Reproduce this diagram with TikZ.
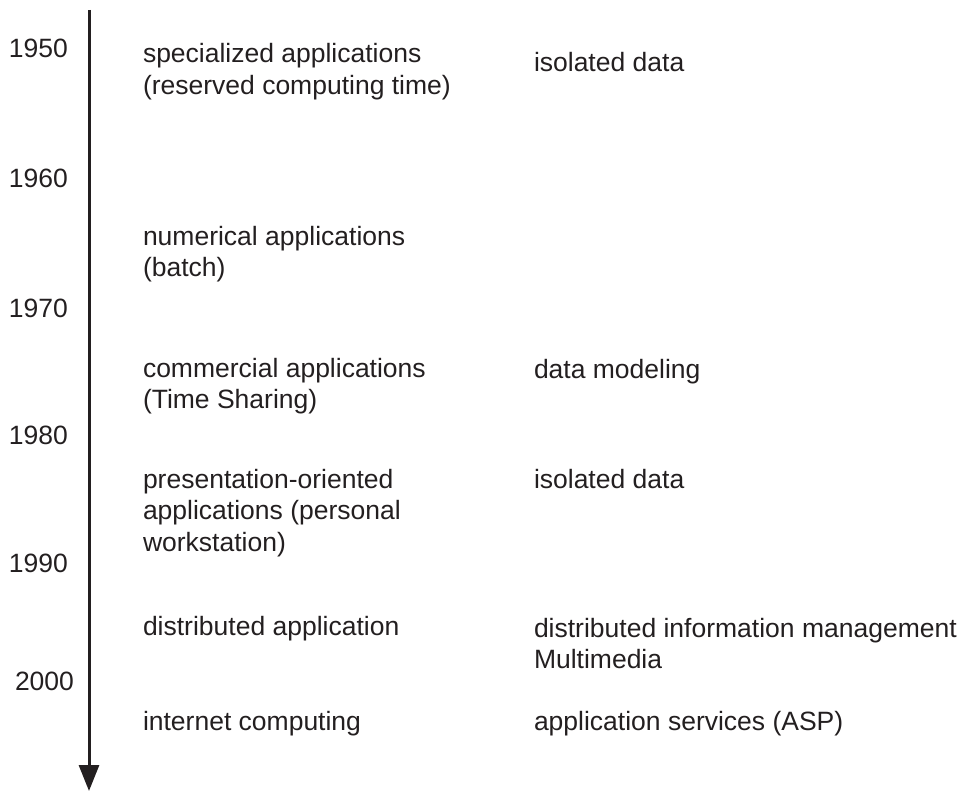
\documentclass[tikz,border=0pt]{standalone}
\usepackage{fontspec}
\setmainfont{Liberation Sans}
\usetikzlibrary{arrows.meta}
\definecolor{ink}{HTML}{231F20}
\newcommand{\stack}[1]{\begin{tabular}[t]{@{}l@{}}#1\end{tabular}}
\begin{document}
\begin{tikzpicture}[x=1pt,y=-1pt,
  every node/.style={inner sep=0pt,outer sep=0pt,anchor=base west,text=ink,
    font=\fontsize{26.5}{31.7}\selectfont},
  year/.style={},
  entry/.style={},
  axis/.style={draw=ink,line width=3pt,-{Triangle[width=20pt,length=26pt]}}]
\useasboundingbox (0,0) rectangle (964,792);

% time axis
\coordinate (axtop) at (89,10);
\coordinate (axend) at (89,791);
\draw[axis] (axtop) -- (axend);

% years
\node[year] (y1950) at (9,58)  {1950};
\node[year] (y1960) at (9,187) {1960};
\node[year] (y1970) at (9,317) {1970};
\node[year] (y1980) at (9,444) {1980};
\node[year] (y1990) at (9,572) {1990};
\node[year] (y2000) at (15,690) {2000};

% application styles
\node[entry] (a1) at (143,63)  {\stack{specialized applications\\(reserved computing time)}};
\node[entry] (a2) at (143,245) {\stack{numerical applications\\(batch)}};
\node[entry] (a3) at (143,377) {\stack{commercial applications\\(Time Sharing)}};
\node[entry] (a4) at (143,488) {\stack{presentation-oriented\\applications (personal\\workstation)}};
\node[entry] (a5) at (143,635) {distributed application};
\node[entry] (a6) at (143,730) {internet computing};

% data handling
\node[entry] (d1) at (534,72)  {isolated data};
\node[entry] (d2) at (534,378) {data modeling};
\node[entry] (d3) at (534,488) {isolated data};
\node[entry] (d4) at (534,637) {\stack{distributed information management\\Multimedia}};
\node[entry] (d5) at (534,730) {application services (ASP)};
\end{tikzpicture}
\end{document}
